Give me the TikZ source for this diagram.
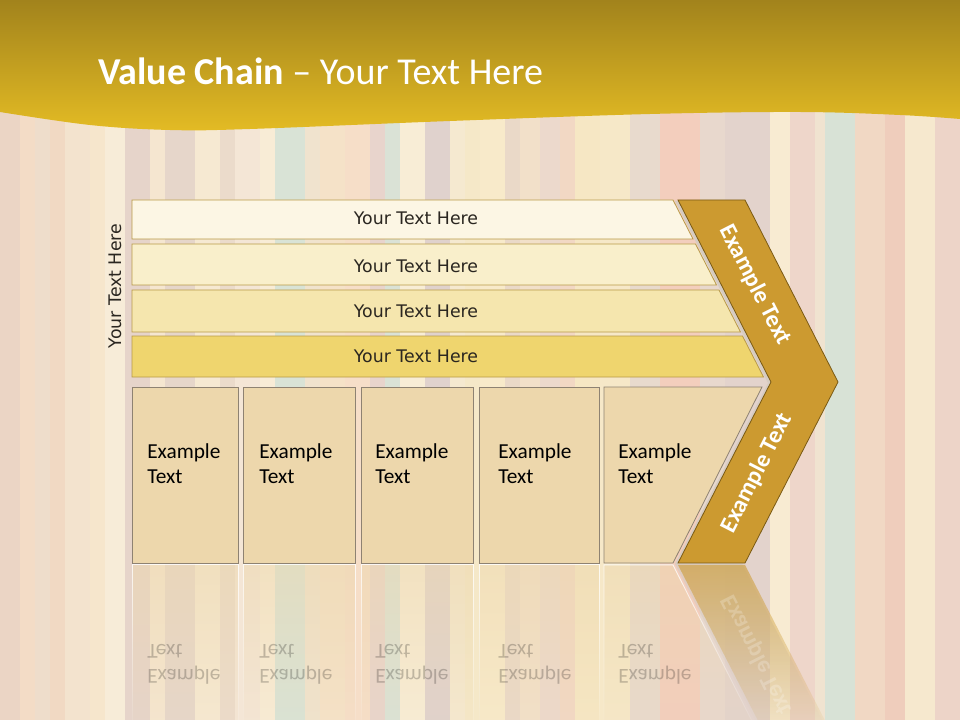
\documentclass[tikz,border=0pt]{standalone}
\usepackage{fontspec}
\setmainfont{Carlito}
\newfontfamily\barfont{DejaVu Sans}
\usetikzlibrary{fadings}
\definecolor{hdrTop}{HTML}{A2831C}
\definecolor{hdrBot}{HTML}{E3BB24}
\definecolor{barA}{HTML}{FCF6E4}
\definecolor{barB}{HTML}{F9EFCB}
\definecolor{barC}{HTML}{F5E6AE}
\definecolor{barD}{HTML}{EFD56E}
\definecolor{barLine}{HTML}{B89A48}
\definecolor{boxFill}{HTML}{EDD7AC}
\definecolor{boxLine}{HTML}{8E8272}
\definecolor{chevFill}{HTML}{CC9A30}
\definecolor{chevLine}{HTML}{7A5A14}
\definecolor{chevShadow}{HTML}{D6CCC2}
\definecolor{txtDark}{HTML}{2A2620}
\begin{document}
\begin{tikzpicture}[x=0.75pt,y=-0.75pt,
  barshape/.style={draw=barLine, line width=0.6pt},
  boxshape/.style={draw=boxLine, fill=boxFill, line width=0.6pt},
  bartext/.style={font=\barfont\fontsize{13}{15}\selectfont, text=txtDark, inner sep=0pt},
  boxtext/.style={font=\fontsize{16}{18.75}\selectfont, align=left, text=black, inner sep=0pt, anchor=north west},
  chevtext/.style={font=\bfseries\fontsize{18}{21}\selectfont, text=white, inner sep=0pt},
  chevshape/.style={fill=chevFill, draw=chevLine, line width=0.6pt},
  reflfill/.style={fill=boxFill, fill opacity=0.5, path fading=south},
  refldraw/.style={draw=white, draw opacity=0.8, line width=0.7pt, path fading=south},
  refltext/.style={boxtext, text opacity=0.22, text=black}
]
\useasboundingbox (0,0) rectangle (960,720);
% background stripes
\foreach \a/\b/\c in {0/20/EBD5C5, 20/35/F3DCC6, 35/50/EEDDCB, 50/65/F1D9C3, 65/90/F3E3CE, 90/105/F6E6CC, 105/125/F7ECD8, 125/150/E6D4CA, 150/165/F5E6D0, 165/195/E6D6CA, 195/220/F6E9D2, 220/235/EBDBCB, 235/260/F4E6D6, 260/275/F8ECD6, 275/305/D9E3D6, 305/320/F0E3CE, 320/345/F5E2C8, 345/370/F6DEC8, 370/385/E8D4CC, 385/400/DAE2D6, 400/425/F8EDD6, 425/450/E0D2CD, 450/465/F5E9D0, 465/480/F5E8C8, 480/505/F8EACA, 505/520/EAD9C8, 520/540/F2E0C9, 540/560/ECD9CC, 560/575/F2D8C4, 575/600/F6E7C4, 600/630/F6E8C8, 630/660/E8DACD, 660/700/F3CEBD, 700/725/E8D8CD, 725/770/E3D3CC, 770/790/F8EBD2, 790/815/EED6CA, 815/825/F0E3D0, 825/855/D8E2D6, 855/885/F1D8C4, 885/905/EFCDBC, 905/935/F6E8CE, 935/960/EDD4C8}{
  \definecolor{stp}{HTML}{\c}
  \fill[stp] (\a,0) rectangle (\b,720);
}
% header band
\shade[top color=hdrTop, bottom color=hdrBot] (0,0) -- (960,0) -- plot[smooth, tension=0.6] coordinates {(960,119) (900,115) (800,112) (650,114) (450,121) (250,129) (170,130) (90,125) (0,112)} -- cycle;
\node[anchor=base west, inner sep=0pt, text=white, font=\fontsize{28.5}{34}\selectfont] (title) at (98,85) {\textbf{Value Chain} – Your Text Here};

% horizontal bars
\draw[barshape, fill=barA] (132,200) -- (673,200) -- (693,239) -- (132,239) -- cycle;
\draw[barshape, fill=barB] (132,244) -- (695.5,244) -- (716.5,285) -- (132,285) -- cycle;
\draw[barshape, fill=barC] (132,290) -- (719,290) -- (740.5,332) -- (132,332) -- cycle;
\draw[barshape, fill=barD] (132,336) -- (742.5,336) -- (763.5,377) -- (132,377) -- cycle;
\node[bartext] (t1) at (416,218.5) {Your Text Here};
\node[bartext] (t2) at (416,266) {Your Text Here};
\node[bartext] (t3) at (416,311) {Your Text Here};
\node[bartext] (t4) at (416,356.5) {Your Text Here};
\node[bartext, rotate=90] (vt) at (115,286) {Your Text Here};

% boxes
\draw[boxshape] (132,387) rectangle (238,563);
\draw[boxshape] (243,387) rectangle (355,563);
\draw[boxshape] (361,387) rectangle (473,563);
\draw[boxshape] (479,387) rectangle (599,563);
\draw[boxshape] (604,387) -- (762,387) -- (673,563) -- (604,563) -- cycle;
\node[boxtext] (e1) at (147,443) {Example\\Text};
\node[boxtext] (e2) at (259,443) {Example\\Text};
\node[boxtext] (e3) at (375,443) {Example\\Text};
\node[boxtext] (e4) at (498,443) {Example\\Text};
\node[boxtext] (e5) at (618,443) {Example\\Text};

% chevron with light edge shadow
\fill[chevShadow] (675,201) -- (742,201) -- (835,383) -- (742,564) -- (675,564) -- (768,383) -- cycle;
\draw[chevshape] (678,200) -- (745,200) -- (838,382) -- (745,563) -- (678,563) -- (771,382) -- cycle;
\node[chevtext, rotate=-63] (c1) at (755,285) {Example Text};
\node[chevtext, rotate=63] (c2) at (757,473) {Example Text};

% reflection
\begin{scope}[shift={(0,1128)}, yscale=-1, transform shape]
  \path[reflfill] (132,387) rectangle (238,563);
  \path[reflfill] (243,387) rectangle (355,563);
  \path[reflfill] (361,387) rectangle (473,563);
  \path[reflfill] (479,387) rectangle (599,563);
  \path[reflfill] (604,387) -- (762,387) -- (673,563) -- (604,563) -- cycle;
  \path[refldraw] (132,387) rectangle (238,563);
  \path[refldraw] (243,387) rectangle (355,563);
  \path[refldraw] (361,387) rectangle (473,563);
  \path[refldraw] (479,387) rectangle (599,563);
  \path[refldraw] (604,387) -- (762,387) -- (673,563) -- (604,563) -- cycle;
  \path[fill=chevShadow, fill opacity=0.7, path fading=south] (768,383) -- (835,383) -- (742,564) -- (675,564) -- cycle;
  \path[fill=chevFill, fill opacity=0.6, path fading=south] (771,382) -- (838,382) -- (745,563) -- (678,563) -- cycle;
  \node[refltext] (r1) at (147,443) {Example\\Text};
  \node[refltext] (r2) at (259,443) {Example\\Text};
  \node[refltext] (r3) at (375,443) {Example\\Text};
  \node[refltext] (r4) at (498,443) {Example\\Text};
  \node[refltext] (r5) at (618,443) {Example\\Text};
  \node[chevtext, rotate=63, text opacity=0.22] (rc) at (757,473) {Example Text};
\end{scope}
\end{tikzpicture}
\end{document}
